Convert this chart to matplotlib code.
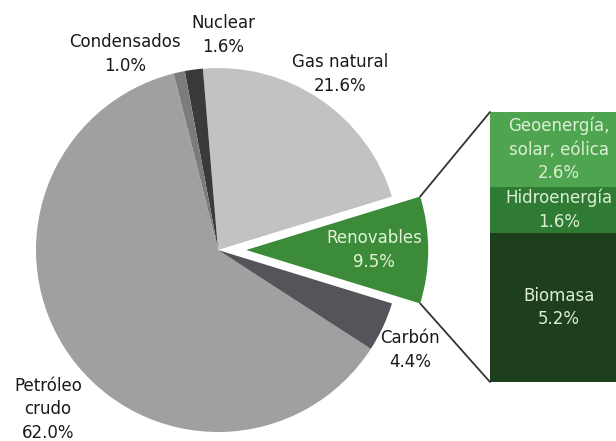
import matplotlib
matplotlib.use('Agg')
import matplotlib.pyplot as plt
from matplotlib.patches import ConnectionPatch
import numpy as np

# pie data (counterclockwise, starting with the exploded slice)
pie_labels = ['Renovables', 'Gas natural', 'Nuclear', 'Condensados', 'Petróleo\ncrudo', 'Carbón']
pie_values = [9.5, 21.6, 1.6, 1.0, 62.0, 4.4]
pie_colors = ['#3b8b39', '#c2c2c2', '#3a3a3a', '#7c7c7c', '#a0a0a0', '#55545a']

# breakdown of renewables (bottom to top)
bar_labels = ['Biomasa', 'Hidroenergía', 'Geoenergía,\nsolar, eólica']
bar_values = [5.2, 1.6, 2.6]
bar_colors = ['#1d3f1d', '#2f7b33', '#4fa54f']

# label positions in pie data units
label_pos = [(0.857, 0.0), (0.67, 0.967), (0.027, 1.181), (-0.511, 1.077),
             (-0.934, -0.875), (1.055, -0.549)]

W, H = 616, 441
fig = plt.figure(figsize=(W / 100, H / 100), dpi=100)

R = 182.0      # pie radius in px
cx, cy = 218, H - 250
S = 218.0
ax = fig.add_axes([(cx - S) / W, (cy - S) / H, 2 * S / W, 2 * S / H])

start = -pie_values[0] / sum(pie_values) * 180
explode = [0.155, 0, 0, 0, 0, 0]
wedges, _ = ax.pie(pie_values, colors=pie_colors, startangle=start,
                   explode=explode, radius=1,
                   wedgeprops=dict(linewidth=0))
ax.set_xlim(-S / R, S / R)
ax.set_ylim(-S / R, S / R)
ax.axis('off')

for i, (lab, val) in enumerate(zip(pie_labels, pie_values)):
    x, y = label_pos[i]
    col = '#e3f3dc' if i == 0 else '#1a1a1a'
    ax.text(x, y, f'{lab}\n{val:.1f}%', ha='center', va='center',
            fontsize=12, color=col, linespacing=1.4)

# stacked bar for the renewables
axb = fig.add_axes([490 / W, (H - 382) / H, 138 / W, 270 / H])
bottom = 0
for lab, val, col in zip(bar_labels, bar_values, bar_colors):
    axb.bar(0, val, bottom=bottom, width=1, color=col, linewidth=0)
    axb.text(0, bottom + val / 2, f'{lab}\n{val:.1f}%', ha='center', va='center',
             fontsize=12, color='#dcefd6', linespacing=1.4)
    bottom += val
axb.set_xlim(-0.5, 0.5)
axb.set_ylim(0, bottom)
axb.axis('off')

# connector lines from the exploded wedge to the bar
w = wedges[0]
wx, wy = w.center
for th, yb in [(w.theta2, 1), (w.theta1, 0)]:
    t = np.deg2rad(th)
    p = (wx + w.r * np.cos(t), wy + w.r * np.sin(t))
    con = ConnectionPatch(xyA=p, coordsA=ax.transData, xyB=(0, yb),
                          coordsB=axb.transAxes, color='#333333', lw=1.3)
    fig.add_artist(con)

fig.savefig('out.png', dpi=100)
